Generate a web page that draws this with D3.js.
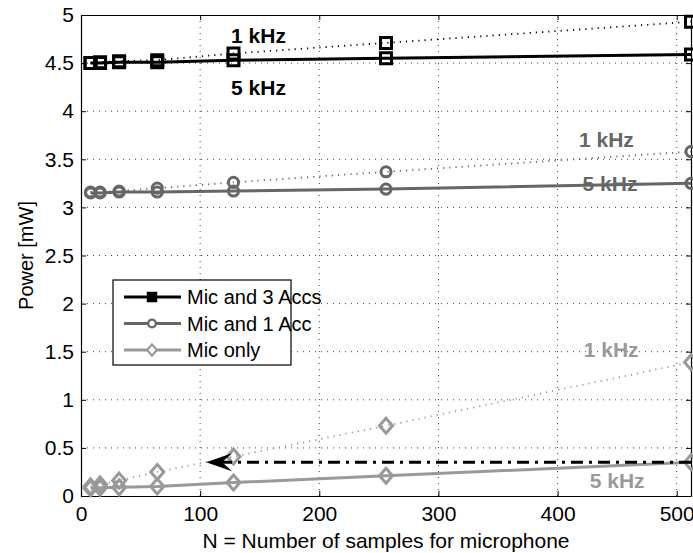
<!DOCTYPE html>
<html>
<head>
<meta charset="utf-8">
<script src="https://cdn.jsdelivr.net/npm/d3@7"></script>
<style>
  body { margin: 0; background: #fff; }
  svg { font-family: "Liberation Sans", Arial, sans-serif; }
</style>
</head>
<body>
<svg width="693" height="553"></svg>
<script>
// samples for microphone
var samples = [8, 16, 32, 64, 128, 256, 512];

// power in mW, 5 kHz (solid) and 1 kHz (dotted)
var acc3_5k = [4.50, 4.50, 4.51, 4.51, 4.53, 4.55, 4.59];
var acc3_1k = [4.50, 4.51, 4.52, 4.53, 4.60, 4.71, 4.93];
var acc1_5k = [3.15, 3.15, 3.16, 3.16, 3.17, 3.19, 3.25];
var acc1_1k = [3.16, 3.16, 3.17, 3.20, 3.26, 3.37, 3.58];
var mic_5k = [0.08, 0.085, 0.09, 0.10, 0.14, 0.21, 0.35];
var mic_1k = [0.10, 0.12, 0.16, 0.25, 0.41, 0.73, 1.39];

var seriesNames = ["Mic and 3 Accs", "Mic and 1 Acc", "Mic only"];
var xTicks = [0, 100, 200, 300, 400, 500];
var yTicks = [0, 0.5, 1, 1.5, 2, 2.5, 3, 3.5, 4, 4.5, 5];

var svg = d3.select("svg");
var margin = { left: 81, right: 2, top: 15, bottom: 57 };
var width = 693 - margin.left - margin.right;
var height = 553 - margin.top - margin.bottom;

var x = d3.scaleLinear().domain([0, 512]).range([margin.left, margin.left + width]);
var y = d3.scaleLinear().domain([0, 5]).range([margin.top + height, margin.top]);

var groups = [
  { name: seriesNames[0], color: "#000", shape: "square", fast: acc3_5k, slow: acc3_1k },
  { name: seriesNames[1], color: "#666", shape: "circle", fast: acc1_5k, slow: acc1_1k },
  { name: seriesNames[2], color: "#999", shape: "diamond", fast: mic_5k, slow: mic_1k }
];

// grid
var grid = svg.append("g").attr("stroke", "#444").attr("stroke-width", 1).attr("stroke-dasharray", "1,5");
grid.selectAll(".gx").data(xTicks.slice(1)).enter().append("line")
  .attr("x1", (d) => x(d)).attr("x2", (d) => x(d))
  .attr("y1", y(0)).attr("y2", y(5));
grid.selectAll(".gy").data(yTicks.slice(1, -1)).enter().append("line")
  .attr("x1", x(0)).attr("x2", x(512))
  .attr("y1", (d) => y(d)).attr("y2", (d) => y(d));

// axes (matlab style: ticks inside on all four sides)
var fmt = d3.format("~g");
svg.append("g").attr("transform", `translate(0,${y(0)})`)
  .call(d3.axisBottom(x).tickValues(xTicks).tickFormat(fmt).tickSizeInner(-5).tickSizeOuter(0).tickPadding(10));
svg.append("g").attr("transform", `translate(${x(0)},0)`)
  .call(d3.axisLeft(y).tickValues(yTicks).tickFormat(fmt).tickSizeInner(-5).tickSizeOuter(0).tickPadding(7));
svg.append("g").attr("transform", `translate(0,${y(5)})`)
  .call(d3.axisTop(x).tickValues(xTicks).tickSizeInner(-5).tickSizeOuter(0).tickFormat(""));
svg.append("g").attr("transform", `translate(${x(512)},0)`)
  .call(d3.axisRight(y).tickValues(yTicks).tickSizeInner(-5).tickSizeOuter(0).tickFormat(""));
svg.selectAll(".domain").attr("stroke", "#000").attr("stroke-width", 1.2);
svg.selectAll(".tick line").attr("stroke", "#000");
svg.selectAll(".tick text").attr("font-size", "21px").attr("fill", "#000")
  .attr("font-family", "Liberation Sans, Arial, sans-serif");

svg.append("text").attr("x", x(256)).attr("y", 548).attr("text-anchor", "middle")
  .attr("font-size", "21px").text("N = Number of samples for microphone");
svg.append("text").attr("transform", `translate(33,${y(2.5)}) rotate(-90)`)
  .attr("text-anchor", "middle").attr("font-size", "20px").text("Power [mW]");

function symbolPath(shape) {
  if (shape === "square") return "M-5.5,-5.5H5.5V5.5H-5.5Z";
  if (shape === "circle") return d3.symbol(d3.symbolCircle, 80)();
  return "M0,-7.5L6.5,0L0,7.5L-6.5,0Z";
}

var line = d3.line().x((d) => x(d[0])).y((d) => y(d[1]));

groups.forEach(function (g) {
  var fastPts = samples.map((s, i) => [s, g.fast[i]]);
  var slowPts = samples.map((s, i) => [s, g.slow[i]]);
  svg.append("path").datum(slowPts).attr("d", line)
    .attr("fill", "none").attr("stroke", g.color).attr("stroke-width", 1.8)
    .attr("stroke-dasharray", "1.2,5");
  svg.append("path").datum(fastPts).attr("d", line)
    .attr("fill", "none").attr("stroke", g.color).attr("stroke-width", 3);
  svg.append("g").selectAll("path").data(fastPts.concat(slowPts)).enter().append("path")
    .attr("transform", (d) => `translate(${x(d[0])},${y(d[1])})`)
    .attr("d", symbolPath(g.shape))
    .attr("fill", "none").attr("stroke", g.color).attr("stroke-width", 3);
});

// arrow from the 5 kHz mic-only value at 512 back to the 1 kHz curve
var arrowY = mic_5k[6];
var tipX = 105;
svg.append("line")
  .attr("x1", x(512)).attr("x2", x(tipX) + 16)
  .attr("y1", y(arrowY)).attr("y2", y(arrowY))
  .attr("stroke", "#000").attr("stroke-width", 3)
  .attr("stroke-dasharray", "12,6,3,6");
svg.append("path")
  .attr("transform", `translate(${x(tipX)},${y(arrowY)})`)
  .attr("d", "M0,0L26,-9L16,0L26,9Z").attr("fill", "#000");

// frequency labels
var labels = [
  { t: "1 kHz", xv: 149, yv: 4.71, c: "#000" },
  { t: "5 kHz", xv: 149, yv: 4.17, c: "#000" },
  { t: "1 kHz", xv: 441, yv: 3.63, c: "#666" },
  { t: "5 kHz", xv: 444, yv: 3.17, c: "#666" },
  { t: "1 kHz", xv: 445, yv: 1.445, c: "#999" },
  { t: "5 kHz", xv: 450, yv: 0.083, c: "#999" }
];
svg.selectAll(".lbl").data(labels).enter().append("text")
  .attr("x", (d) => x(d.xv)).attr("y", (d) => y(d.yv))
  .attr("text-anchor", "middle").attr("font-size", "21px").attr("font-weight", "bold")
  .attr("fill", (d) => d.c).text((d) => d.t);

// legend
var lg = svg.append("g").attr("transform", "translate(113,280)");
lg.append("rect").attr("width", 178).attr("height", 85)
  .attr("fill", "#fff").attr("stroke", "#000").attr("stroke-width", 1.2);
var items = lg.selectAll(".item").data(groups).enter().append("g")
  .attr("transform", (d, i) => `translate(0,${17 + i * 26.5})`);
items.append("line").attr("x1", 11).attr("x2", 68)
  .attr("stroke", (d) => d.color).attr("stroke-width", 3);
items.append("path").attr("transform", "translate(39,0) scale(0.75)")
  .attr("d", (d) => symbolPath(d.shape))
  .attr("fill", (d) => d.shape === "square" ? "#000" : "#fff")
  .attr("stroke", (d) => d.color).attr("stroke-width", 3);
items.append("text").attr("x", 74).attr("y", 7).attr("font-size", "20px").text((d) => d.name);
</script>
</body>
</html>
